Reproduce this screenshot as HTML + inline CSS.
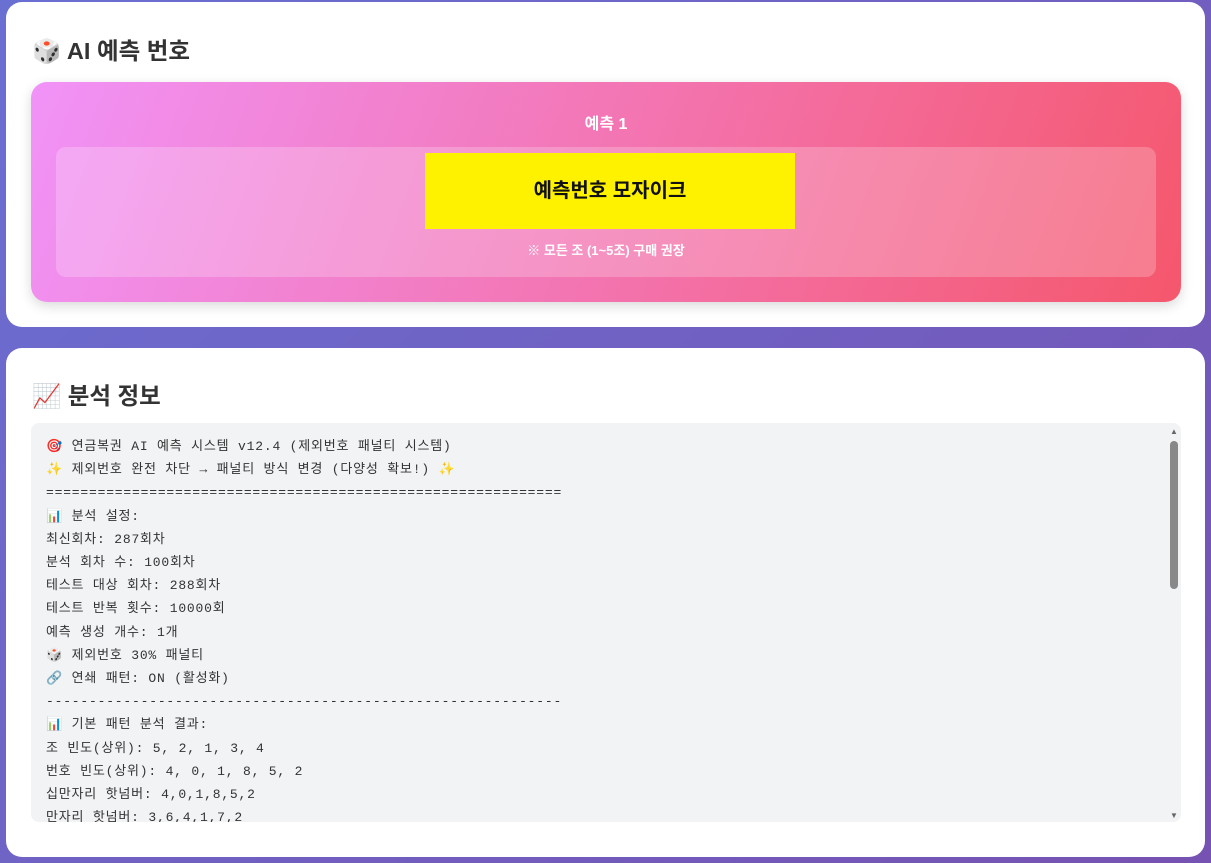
<!DOCTYPE html>
<html><head><meta charset="utf-8"><style>
*{box-sizing:border-box;margin:0;padding:0}
body{width:1211px;height:863px;overflow:hidden;background:linear-gradient(135deg,#6a6fd2,#7652b2);font-family:"Liberation Sans","Noto Sans CJK KR",sans-serif;position:relative}
.card{position:absolute;left:6px;width:1199px;background:#fff;border-radius:16px}
h2{position:absolute;left:26px;font-size:23.5px;font-weight:bold;color:#333}
.grad{position:absolute;left:25px;top:80px;width:1150px;height:220px;border-radius:16px;background:linear-gradient(110deg,#f193f8,#f5576c);box-shadow:0 4px 12px rgba(0,0,0,.15)}
.t1{position:absolute;top:28px;width:100%;text-align:center;color:#fff;font-weight:bold;font-size:16px}
.inner{position:absolute;left:25px;top:65px;width:1100px;height:130px;border-radius:10px;background:rgba(255,255,255,.22)}
.yel{position:absolute;left:369px;top:6px;width:370px;height:76px;background:#fff200;text-align:center;line-height:76px;font-size:20px;font-weight:bold;color:#111}
.note{position:absolute;top:93px;width:100%;text-align:center;color:#fff;font-size:13px;font-weight:bold}
.pre{position:absolute;left:25px;top:75px;width:1150px;height:399px;background:#f2f3f5;border-radius:8px;overflow:hidden}
.pre div.txt{position:absolute;left:15px;top:12px;font-family:"Liberation Mono","Noto Sans CJK KR",monospace;font-size:13px;letter-spacing:0.8px;line-height:23.2px;color:#333;white-space:pre}
.sb{position:absolute;right:0;top:0;width:14px;height:399px;background:#f2f3f5}
.thumb{position:absolute;left:3px;top:18px;width:8px;height:148px;background:#888;border-radius:4px}
</style></head><body>
<div class="card" style="top:2px;height:325px">
<h2 style="top:30px">🎲 AI 예측 번호</h2>
<div class="grad">
<div class="t1">예측 1</div>
<div class="inner"><div class="yel">예측번호 모자이크</div><div class="note">※ 모든 조 (1~5조) 구매 권장</div></div>
</div>
</div>
<div class="card" style="top:348px;height:509px">
<h2 style="top:29px">📈 분석 정보</h2>
<div class="pre"><div class="txt">🎯 연금복권 AI 예측 시스템 v12.4 (제외번호 패널티 시스템)
✨ 제외번호 완전 차단 → 패널티 방식 변경 (다양성 확보!) ✨
============================================================
📊 분석 설정:
최신회차: 287회차
분석 회차 수: 100회차
테스트 대상 회차: 288회차
테스트 반복 횟수: 10000회
예측 생성 개수: 1개
🎲 제외번호 30% 패널티
🔗 연쇄 패턴: ON (활성화)
------------------------------------------------------------
📊 기본 패턴 분석 결과:
조 빈도(상위): 5, 2, 1, 3, 4
번호 빈도(상위): 4, 0, 1, 8, 5, 2
십만자리 핫넘버: 4,0,1,8,5,2
만자리 핫넘버: 3,6,4,1,7,2</div>
<div class="sb"><div style="position:absolute;left:3px;top:4px;font-size:8px;color:#666">▲</div><div class="thumb"></div><div style="position:absolute;left:3px;bottom:2px;font-size:8px;color:#666">▼</div></div>
</div>
</div>
</body></html>
